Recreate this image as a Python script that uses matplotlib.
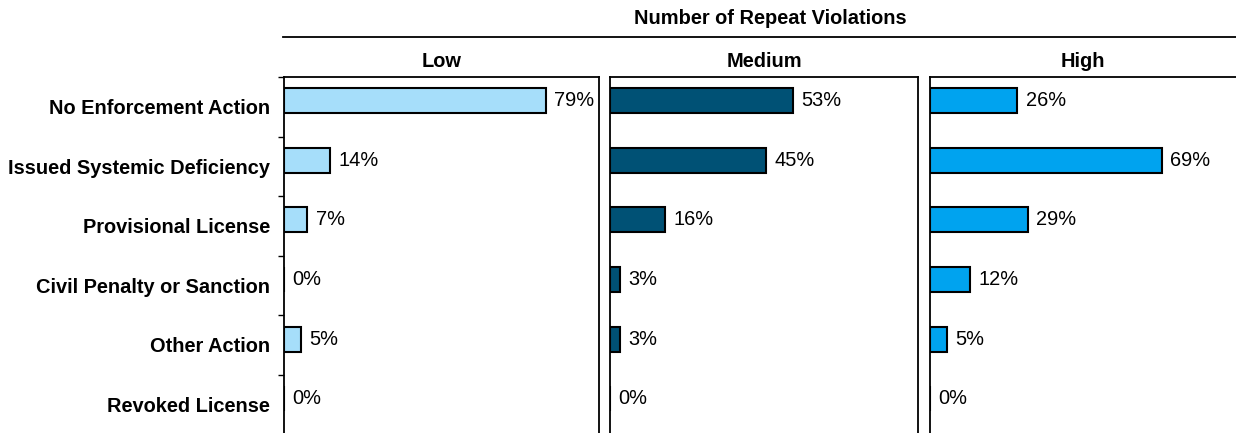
import matplotlib
matplotlib.use("Agg")
from matplotlib import pyplot as plt

plt.rcParams['font.family'] = ['Liberation Sans', 'DejaVu Sans']

categories = ['No Enforcement Action', 'Issued Systemic Deficiency', 'Provisional License',
              'Civil Penalty or Sanction', 'Other Action', 'Revoked License']
panels = ['Low', 'Medium', 'High']
low = [79, 14, 7, 0, 5, 0]
medium = [53, 45, 16, 3, 3, 0]
high = [26, 69, 29, 12, 5, 0]
values = [low, medium, high]
colors = ['#A6DEFA', '#005175', '#00A3EF']

# panel boxes in figure pixels (left, right) and x range in percent
W, H = 1236, 433
boxes = [(284, 599), (610, 918), (930, 1236)]
xmax = [95, 89, 91]
top_px = 77

fig = plt.figure(figsize=(12.36, 4.33), dpi=100)
y = list(range(len(categories)))

for k in range(3):
    l, r = boxes[k]
    ax = fig.add_axes([l / W, -0.003, (r - l) / W, 1 - top_px / H + 0.003])
    ypos = [i - 0.1 for i in y]
    ax.barh(ypos, values[k], height=0.42, color=colors[k], edgecolor='black', linewidth=1.5)
    ax.set_xlim(0, xmax[k])
    ax.set_ylim(len(categories) - 0.5, -0.5)
    for yy, v in zip(ypos, values[k]):
        ax.annotate('%d%%' % v, (v, yy), xytext=(6, 0), textcoords='offset points',
                    va='center', ha='left', fontsize=14.4)
    ax.set_xticks([])
    ax.spines['bottom'].set_visible(False)
    for s in ['left', 'right', 'top']:
        ax.spines[s].set_linewidth(1.3)
    if k == 2:
        ax.spines['right'].set_visible(False)
    ax.set_title(panels[k], fontsize=14.4, fontweight='bold', pad=7)
    if k == 0:
        ax.set_yticks(y)
        ax.set_yticklabels(categories, fontsize=14.4, fontweight='bold')
        ax.tick_params(axis='y', which='major', length=0, pad=10)
        ax.set_yticks([i - 0.5 for i in range(len(categories) + 1)], minor=True)
        ax.tick_params(axis='y', which='minor', length=4.5, width=1)
    else:
        ax.set_yticks([])

# overall header with rule
fig.text(770 / W, 1 - 18 / H, 'Number of Repeat Violations', ha='center', va='center',
         fontsize=14.4, fontweight='bold')
fig.add_artist(plt.Line2D([283 / W, 1.0], [1 - 37 / H, 1 - 37 / H], color='black', linewidth=1.3))

plt.savefig('out.png', dpi=100)
